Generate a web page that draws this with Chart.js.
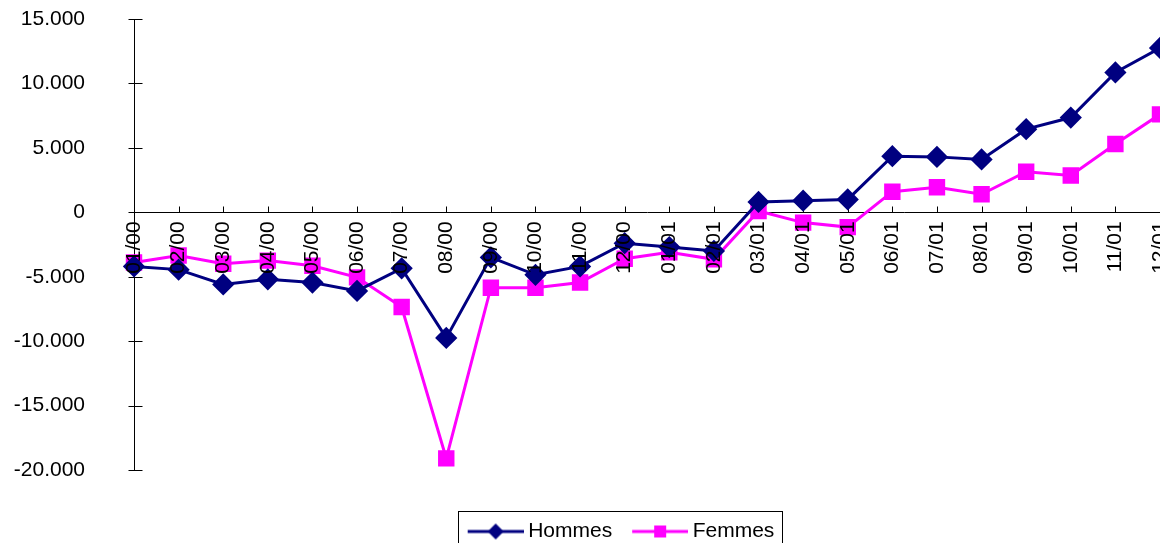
<!DOCTYPE html>
<html>
<head>
<meta charset="utf-8">
<script src="https://cdn.jsdelivr.net/npm/chart.js@4"></script>
<style>
  html, body { margin: 0; padding: 0; background: #fff; }
  #wrap { width: 1160px; height: 543px; }
</style>
</head>
<body>
<div id="wrap"><canvas id="evolChart" width="1160" height="543"></canvas></div>
<script>
// months 2000 - 2001
const months = ['01/00', '02/00', '03/00', '04/00', '05/00', '06/00', '07/00', '08/00', '09/00', '10/00', '11/00', '12/00',
                '01/01', '02/01', '03/01', '04/01', '05/01', '06/01', '07/01', '08/01', '09/01', '10/01', '11/01', '12/01'];
const hommes = [-4200, -4450, -5600, -5200, -5450, -6100, -4350, -9750, -3500, -4850, -4200, -2400,
                -2700, -3000, 800, 900, 1000, 4350, 4300, 4100, 6450, 7350, 10850, 12750];
const femmes = [-3900, -3350, -4000, -3750, -4150, -5050, -7350, -19100, -5850, -5850, -5450, -3600,
                -3100, -3650, 100, -800, -1150, 1600, 1950, 1400, 3150, 2850, 5300, 7600];
const yTicks = [-20000, -15000, -10000, -5000, 0, 5000, 10000, 15000];

const NAVY = '#000080';
const PINK = '#FF00FF';
const FONT = '"Liberation Sans", Arial, sans-serif';

Chart.defaults.font.family = FONT;
Chart.defaults.color = '#000';

// legend icon: line with marker in the middle
function legendIcon(color, shape) {
    const c = document.createElement('canvas');
    c.width = 72;
    c.height = 20;
    const g = c.getContext('2d');
    g.strokeStyle = color;
    g.lineWidth = 3;
    g.beginPath();
    g.moveTo(16, 10);
    g.lineTo(72, 10);
    g.stroke();
    g.fillStyle = color;
    if (shape === 'diamond') {
        g.beginPath();
        g.moveTo(44, 2);
        g.lineTo(52, 10);
        g.lineTo(44, 18);
        g.lineTo(36, 10);
        g.closePath();
        g.fill();
    } else {
        g.fillRect(38, 4, 12, 12);
    }
    return c;
}
const icons = [legendIcon(NAVY, 'diamond'), legendIcon(PINK, 'square')];

function fmt(v) {
    if (v === 0) return '0';
    return (v / 1000).toFixed(3);
}

// tick marks: x ticks pointing up from the zero line, y ticks crossing the axis
const tickMarks = {
    id: 'tickMarks',
    beforeDatasetsDraw(chart) {
        const {ctx, scales: {x, y}} = chart;
        const y0 = Math.round(y.getPixelForValue(0)) + 0.5;
        ctx.save();
        ctx.strokeStyle = '#000';
        ctx.lineWidth = 1;
        ctx.beginPath();
        months.forEach((m, i) => {
            const px = Math.round(x.getPixelForTick(i)) + 0.5;
            ctx.moveTo(px, y0);
            ctx.lineTo(px, y0 - 6);
        });
        const ax = Math.round(chart.chartArea.left) + 0.5;
        yTicks.forEach(v => {
            const py = Math.round(y.getPixelForValue(v)) + 0.5;
            ctx.moveTo(ax - 6, py);
            ctx.lineTo(ax + 8, py);
        });
        ctx.stroke();
        ctx.restore();
    }
};

// frame round the legend
const legendFrame = {
    id: 'legendFrame',
    afterDraw(chart) {
        const hb = chart.legend.legendHitBoxes;
        if (!hb || !hb.length) return;
        const first = hb[0];
        const last = hb[hb.length - 1];
        const left = Math.round(first.left) + 0.5;
        const right = Math.round(last.left + last.width + 8) + 0.5;
        const top = Math.round(first.top - 10.5) + 0.5;
        const ctx = chart.ctx;
        ctx.save();
        ctx.strokeStyle = '#000';
        ctx.lineWidth = 1;
        ctx.strokeRect(left, top, right - left, 60);
        ctx.restore();
    }
};

const ctx = document.getElementById('evolChart').getContext('2d');
const evolChart = new Chart(ctx, {
    type: 'line',
    data: {
        labels: months,
        datasets: [{
            label: 'Hommes',
            data: hommes,
            borderColor: NAVY,
            backgroundColor: NAVY,
            borderWidth: 3,
            pointStyle: 'rectRot',
            pointRadius: 9,
            pointHoverRadius: 9,
            pointBackgroundColor: NAVY,
            pointBorderColor: NAVY,
            tension: 0
        }, {
            label: 'Femmes',
            data: femmes,
            borderColor: PINK,
            backgroundColor: PINK,
            borderWidth: 3,
            pointStyle: 'rect',
            pointRadius: 9.5,
            pointHoverRadius: 9.5,
            pointBackgroundColor: PINK,
            pointBorderColor: PINK,
            tension: 0
        }]
    },
    options: {
        responsive: false,
        animation: false,
        devicePixelRatio: 1,
        layout: {
            autoPadding: false,
            padding: { left: 72, top: 19, right: 0, bottom: 0 }
        },
        scales: {
            x: {
                type: 'category',
                position: { y: 0 },
                offset: false,
                grid: { display: true, drawOnChartArea: false, drawTicks: false },
                border: { display: true, color: '#000', width: 1 },
                ticks: {
                    z: 1, // month labels sit on top of the lines
                    autoSkip: false,
                    minRotation: 90,
                    maxRotation: 90,
                    padding: 9,
                    color: '#000',
                    font: { size: 21 }
                },
                afterFit(s) {
                    s.paddingLeft = 0;
                    s.paddingRight = 0;
                }
            },
            y: {
                position: 'left',
                min: -20000,
                max: 15000,
                grid: { display: true, drawOnChartArea: false, drawTicks: false },
                border: { display: true, color: '#000', width: 1 },
                ticks: {
                    stepSize: 5000,
                    padding: 49,
                    color: '#000',
                    font: { size: 21 },
                    callback: v => fmt(v)
                },
                afterFit(s) {
                    s.width = 62;
                    s.paddingTop = 0;
                    s.paddingBottom = 0;
                    // labels reach left of the narrow axis box, so do not clip them
                    s._computeLabelArea = () => undefined;
                }
            }
        },
        plugins: {
            tooltip: { enabled: false },
            legend: {
                position: 'bottom',
                maxHeight: 73,
                title: { display: true, text: '', padding: { top: 41, bottom: 0 }, font: { size: 0 } },
                labels: {
                    usePointStyle: true,
                    pointStyleWidth: 60,
                    padding: 10,
                    color: '#000',
                    font: { size: 21 },
                    generateLabels(chart) {
                        const items = Chart.defaults.plugins.legend.labels.generateLabels(chart);
                        items.forEach((it, i) => { it.pointStyle = icons[i]; });
                        return items;
                    }
                }
            }
        }
    },
    plugins: [tickMarks, legendFrame]
});
</script>
</body>
</html>
